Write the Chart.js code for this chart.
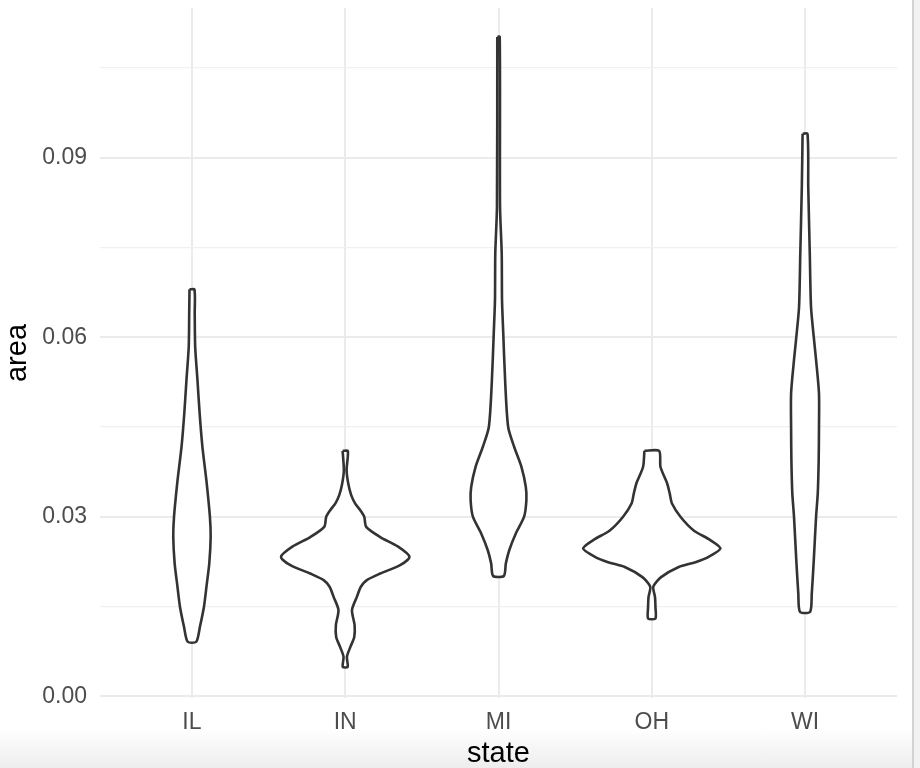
<!DOCTYPE html>
<html>
<head>
<meta charset="utf-8">
<script src="https://cdn.jsdelivr.net/npm/chart.js@4.4.0/dist/chart.umd.min.js"></script>
<style>
  body { margin: 0; background: #fff; }
  #wrap { position: relative; width: 920px; height: 768px; background: linear-gradient(to bottom, #fff 0px, #fff 728px, #ededee 768px); }
  #edge { position: absolute; left: 912px; top: 0; width: 2px; height: 768px; background: #d3d3d6; }
  #strip { position: absolute; left: 914px; top: 0; width: 6px; height: 768px; background: #f2f2f3; }
</style>
</head>
<body>
<div id="wrap">
  <canvas id="violin" width="920" height="768"></canvas>
  <div id="edge"></div>
  <div id="strip"></div>
</div>
<script>
"use strict";

const states = ["IL", "IN", "MI", "OH", "WI"];
const yMajor = [0, 0.03, 0.06, 0.09];
const yMinor = [0.015, 0.045, 0.075, 0.105];

// violin outlines: area level (top to bottom) and half width in category units
const ilArea = [0.068, 0.064, 0.0584, 0.0528, 0.0473, 0.0417, 0.0361, 0.030, 0.0266, 0.0222, 0.0186, 0.0149, 0.0116, 0.0091];
const ilHalf = [0.016, 0.018, 0.021, 0.036, 0.050, 0.068, 0.094, 0.117, 0.122, 0.113, 0.096, 0.078, 0.052, 0.028];

const inArea = [0.041, 0.0378, 0.0355, 0.0336, 0.0322, 0.0311, 0.030, 0.0283, 0.0266, 0.025, 0.0233, 0.0219, 0.0205, 0.0194, 0.0183, 0.0166, 0.0144, 0.0119, 0.0099, 0.0082, 0.0066, 0.0049];
const inHalf = [0.017, 0.009, 0.020, 0.039, 0.065, 0.098, 0.124, 0.137, 0.228, 0.345, 0.419, 0.358, 0.228, 0.141, 0.102, 0.076, 0.044, 0.061, 0.059, 0.033, 0.011, 0.016];

const miArea = [0.1102, 0.0818, 0.074, 0.0662, 0.0607, 0.0523, 0.045, 0.0417, 0.0383, 0.035, 0.0328, 0.030, 0.0272, 0.0244, 0.0222, 0.0201];
const miHalf = [0.008, 0.010, 0.021, 0.023, 0.031, 0.044, 0.063, 0.102, 0.150, 0.178, 0.182, 0.167, 0.113, 0.070, 0.048, 0.035];

const ohArea = [0.041, 0.0383, 0.0356, 0.0339, 0.0322, 0.030, 0.0277, 0.0261, 0.0247, 0.0233, 0.0224, 0.0216, 0.0199, 0.0183, 0.0166, 0.0149, 0.013];
const ohHalf = [0.048, 0.057, 0.100, 0.117, 0.132, 0.187, 0.274, 0.382, 0.448, 0.371, 0.285, 0.176, 0.061, 0.010, 0.021, 0.024, 0.024];

const wiArea = [0.094, 0.0851, 0.074, 0.0651, 0.060, 0.0562, 0.0506, 0.045, 0.0394, 0.0339, 0.030, 0.0227, 0.0172, 0.0141];
const wiHalf = [0.016, 0.021, 0.031, 0.039, 0.057, 0.072, 0.091, 0.091, 0.089, 0.083, 0.072, 0.057, 0.044, 0.033];

const allArea = [ilArea, inArea, miArea, ohArea, wiArea];
const allHalf = [ilHalf, inHalf, miHalf, ohHalf, wiHalf];

Chart.defaults.font.family = "'Liberation Sans', Arial, sans-serif";

function outline(i) {
  let c = i + 1;
  let area = allArea[i];
  let half = allHalf[i];
  let pts = [];
  for (let k = 0; k < area.length; k++) {
    pts.push({ x: c - half[k], y: area[k] });
  }
  for (let k = area.length - 1; k >= 0; k--) {
    pts.push({ x: c + half[k], y: area[k] });
  }
  pts.push({ x: c - half[0], y: area[0] });
  return pts;
}

const datasets = [];
for (let i = 0; i < states.length; i++) {
  datasets.push({
    label: states[i],
    data: outline(i),
    showLine: true,
    borderColor: "#333333",
    borderWidth: 2.6,
    backgroundColor: "#ffffff",
    fill: "shape",
    tension: 0.25,
    pointRadius: 0,
  });
}

const config = {
  type: "scatter",
  data: { datasets: datasets },
  options: {
    responsive: false,
    animation: false,
    layout: { padding: { top: 8, right: 23, left: 0, bottom: 0 } },
    plugins: { legend: { display: false }, tooltip: { enabled: false } },
    scales: {
      x: {
        type: "linear",
        min: 0.4,
        max: 5.6,
        afterBuildTicks: (s) => {
          s.ticks = states.map((st, i) => ({ value: i + 1 }));
        },
        afterFit: (s) => {
          s.height = 70;
          s.paddingLeft = 0;
          s.paddingRight = 0;
        },
        grid: { color: "#ebebeb", lineWidth: 2, drawTicks: false },
        border: { display: false },
        ticks: {
          padding: 11,
          color: "#4d4d4d",
          font: { size: 23 },
          autoSkip: false,
          maxRotation: 0,
          callback: (v) => states[Math.round(v) - 1],
        },
        title: { display: true, text: "state", color: "#000", font: { size: 29, lineHeight: 1.0 }, padding: 0 },
      },
      y: {
        type: "linear",
        min: -0.0003,
        max: 0.11503,
        afterBuildTicks: (s) => {
          s.ticks = yMajor.concat(yMinor).sort((a, b) => a - b).map((v) => ({ value: v }));
        },
        afterFit: (s) => {
          s.width = 100;
          s.paddingTop = 0;
          s.paddingBottom = 0;
        },
        grid: {
          drawTicks: false,
          color: (ctx) => (ctx.tick && yMinor.includes(ctx.tick.value) ? "#f0f0f0" : "#ebebeb"),
          lineWidth: (ctx) => (ctx.tick && yMinor.includes(ctx.tick.value) ? 1.2 : 2),
        },
        border: { display: false },
        ticks: {
          padding: 13,
          color: "#4d4d4d",
          font: { size: 23 },
          autoSkip: false,
          callback: (v) => (yMajor.includes(v) ? v.toFixed(2) : ""),
        },
        title: { display: true, text: "area", color: "#000", font: { size: 29 }, padding: { top: 1, bottom: 0 } },
      },
    },
  },
};

const violinChart = new Chart(document.getElementById("violin"), config);
</script>
</body>
</html>
